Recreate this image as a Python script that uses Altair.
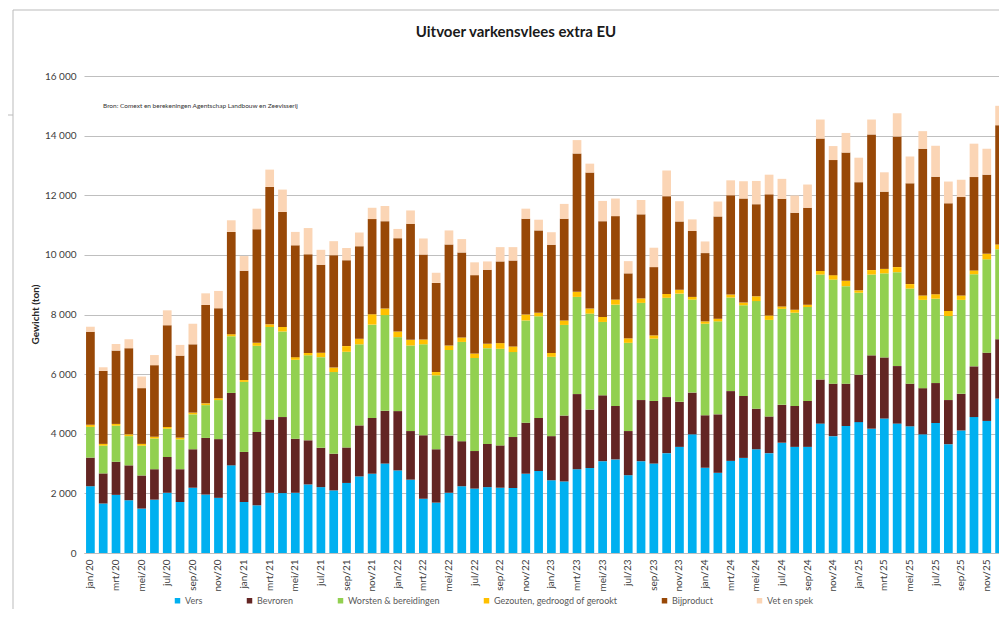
import altair as alt
import pandas as pd

maanden_kort = ["jan", "feb", "mrt", "apr", "mei", "jun", "jul", "aug", "sep", "okt", "nov", "dec"]
jaren = ["20", "21", "22", "23", "24", "25"]
maanden = [f"{m}/{j}" for j in jaren for m in maanden_kort]
labels_zichtbaar = maanden[::2]

reeksen = ["Vers", "Bevroren", "Worsten & bereidingen", "Gezouten, gedroogd of gerookt", "Bijproduct", "Vet en spek"]
kleuren = ["#00B0F0", "#632523", "#92D050", "#FFC000", "#984807", "#FBD5B5"]

vers = [2240, 1660, 1950, 1770, 1490, 1790, 2020, 1710, 2190, 1960, 1850, 2940,
        1710, 1600, 2020, 2010, 2020, 2300, 2210, 2100, 2350, 2570, 2660, 3000,
        2770, 2460, 1820, 1690, 2020, 2240, 2160, 2210, 2190, 2180, 2660, 2750,
        2440, 2400, 2810, 2850, 3080, 3140, 2610, 3080, 3000, 3350, 3560, 3980,
        2860, 2690, 3090, 3190, 3480, 3350, 3700, 3560, 3560, 4340, 3920, 4260,
        4390, 4170, 4510, 4340, 4250, 3980, 4360, 3650, 4110, 4560, 4430, 5180]
bevroren = [960, 1010, 1110, 1170, 1110, 1020, 1200, 1100, 1290, 1900, 1970, 2430,
            1680, 2460, 2460, 2550, 1810, 1480, 1320, 1230, 1190, 1710, 1870, 1770,
            1990, 1630, 2130, 1790, 1920, 1510, 1260, 1450, 1420, 1710, 1710, 1780,
            1480, 2210, 2520, 1960, 2210, 1790, 1480, 2050, 2100, 1880, 1510, 1400,
            1760, 1960, 2340, 2080, 1360, 1230, 1270, 1370, 1540, 1480, 1760, 1420,
            1590, 2460, 2050, 1930, 1430, 1550, 1340, 1480, 1230, 1700, 2290, 1990]
worsten = [1030, 930, 1210, 980, 1000, 1030, 950, 1000, 1170, 1100, 1310, 1900,
           2350, 2890, 3100, 2870, 2650, 2850, 3040, 2740, 3210, 2720, 3130, 3210,
           2480, 2870, 3050, 2480, 2870, 3330, 3120, 3210, 3240, 2850, 3430, 3410,
           2660, 3040, 3260, 3220, 2460, 3400, 2960, 3260, 2090, 3330, 3630, 3120,
           3070, 3120, 3140, 3040, 3610, 3240, 3220, 3130, 3150, 3520, 3490, 3270,
           2750, 2710, 2820, 3150, 3190, 2960, 2830, 2820, 3150, 3090, 3130, 3020]
gezouten = [70, 60, 60, 60, 60, 60, 60, 60, 60, 60, 60, 70,
            60, 100, 90, 150, 90, 80, 150, 150, 190, 190, 350, 220,
            190, 190, 160, 110, 150, 150, 150, 150, 190, 190, 200, 120,
            130, 150, 170, 170, 170, 170, 150, 150, 110, 130, 130, 90,
            80, 90, 100, 90, 160, 150, 80, 100, 80, 120, 150, 180,
            80, 150, 150, 170, 150, 150, 150, 170, 150, 130, 190, 160]
bijproduct = [3120, 2450, 2460, 2890, 1870, 2400, 3410, 2750, 2290, 3300, 3020, 3430,
              3670, 3810, 4610, 3860, 3750, 3310, 2950, 3770, 2880, 3100, 3190, 2930,
              3130, 3890, 2850, 2990, 3390, 2850, 2630, 2480, 2740, 2880, 3210, 2760,
              3630, 3410, 4640, 4560, 3210, 2800, 2180, 2820, 2290, 3280, 2290, 2210,
              2290, 3430, 3330, 3490, 3090, 4060, 3610, 3250, 3250, 4440, 3860, 4300,
              3630, 4550, 2590, 4380, 3380, 4920, 3940, 3610, 3300, 3130, 2650, 4000]
vet_spek = [170, 120, 220, 300, 390, 340, 500, 360, 690, 390, 580, 390,
            490, 690, 580, 750, 450, 880, 500, 470, 410, 460, 380, 510,
            310, 450, 540, 340, 470, 450, 430, 280, 480, 450, 340, 360,
            420, 500, 450, 300, 680, 590, 410, 480, 650, 860, 680, 390,
            390, 500, 500, 580, 780, 660, 670, 580, 780, 640, 470, 660,
            820, 500, 650, 780, 900, 590, 1040, 730, 580, 1120, 870, 650]

titel = "Uitvoer varkensvlees extra EU"
bron = "Bron: Comext en berekeningen Agentschap Landbouw en Zeevisserij"
y_titel = "Gewicht (ton)"

waarden = [vers, bevroren, worsten, gezouten, bijproduct, vet_spek]
rows = []
for k, (naam, serie) in enumerate(zip(reeksen, waarden)):
    for maand, w in zip(maanden, serie):
        rows.append({"maand": maand, "reeks": naam, "waarde": w, "volgorde": k})
df = pd.DataFrame(rows)

FONT = "Lato"

bars = alt.Chart(df).mark_bar().encode(
    x=alt.X("maand:N", sort=maanden, title="",
            scale=alt.Scale(domain=maanden, paddingInner=0.32, paddingOuter=0.16),
            axis=alt.Axis(values=labels_zichtbaar, labelAngle=-90, labelFontSize=10,
                          labelColor="#404040", labelFont=FONT, labelPadding=6,
                          ticks=False, domain=True, domainColor="#BFBFBF", grid=False)),
    y=alt.Y("waarde:Q", stack="zero", title=y_titel,
            scale=alt.Scale(domain=[0, 16000], nice=False),
            axis=alt.Axis(values=list(range(0, 16001, 2000)),
                          labelExpr="replace(format(datum.value, ',d'), ',', ' ')",
                          labelFontSize=10, labelColor="#404040", labelFont=FONT,
                          labelPadding=8, ticks=False, domain=False,
                          grid=True, gridColor="#BFBFBF", gridWidth=1,
                          titleFont=FONT, titleFontSize=10, titleFontWeight="bold",
                          titleColor="#262626", titleAngle=-90, titleX=-49, titleY=238,
                          titleAlign="center", titleBaseline="middle")),
    color=alt.Color("reeks:N", sort=reeksen,
                    scale=alt.Scale(domain=reeksen, range=kleuren),
                    legend=alt.Legend(title="", orient="none", direction="horizontal",
                                      legendX=89, legendY=520, symbolType="square",
                                      symbolSize=30, symbolStrokeWidth=0,
                                      labelFontSize=9, labelColor="#595959", labelFont=FONT,
                                      columnPadding=42, labelOffset=3)),
    order=alt.Order("volgorde:Q", sort="ascending"),
)

titel_mark = alt.Chart(pd.DataFrame({"t": [titel]})).mark_text(
    font=FONT, fontSize=15, fontWeight="bold", color="#1a1a1a", align="center", baseline="middle"
).encode(text="t:N", x=alt.value(432), y=alt.value(-44))

bron_mark = alt.Chart(pd.DataFrame({"t": [bron]})).mark_text(
    font=FONT, fontSize=6.5, color="#333333", align="left", baseline="middle"
).encode(text="t:N", x=alt.value(19), y=alt.value(30))

rand_links = alt.Chart(pd.DataFrame({"a": [0]})).mark_rule(color="#BBBBBB", strokeWidth=1).encode(
    x=alt.value(-71), y=alt.value(-66), y2=alt.value(533))
rand_boven = alt.Chart(pd.DataFrame({"a": [0]})).mark_rule(color="#BBBBBB", strokeWidth=1).encode(
    x=alt.value(-71), x2=alt.value(930), y=alt.value(-66))
rand_kort = alt.Chart(pd.DataFrame({"a": [0]})).mark_rule(color="#BBBBBB", strokeWidth=1).encode(
    x=alt.value(-80), x2=alt.value(-71), y=alt.value(39))

chart = alt.layer(bars, rand_links, rand_boven, rand_kort, titel_mark, bron_mark).properties(
    width=922, height=477,
    autosize=alt.AutoSizeParams(type="none"),
    padding={"left": 76, "top": 68, "right": -7, "bottom": 56},
).configure_view(stroke="transparent")

chart.save("out.html", embed_options={"renderer": "svg", "actions": False})
